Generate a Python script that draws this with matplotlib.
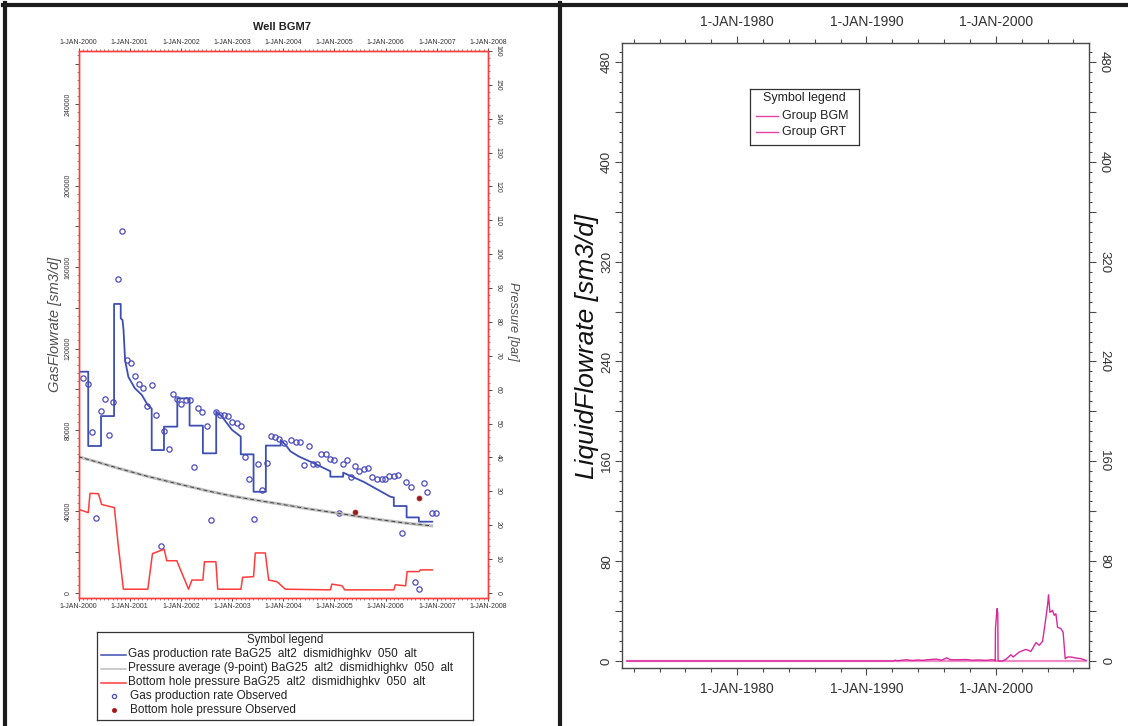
import matplotlib
matplotlib.use("Agg")
import matplotlib.pyplot as plt
from matplotlib.lines import Line2D
from matplotlib.ticker import MultipleLocator, FixedLocator, FuncFormatter

plt.rcParams['font.family'] = ['Liberation Sans', 'DejaVu Sans']

# ---------------- Well BGM7 (time = years after 1-JAN-2000) ----------------
gas_sim_t = [0.0, 0.19, 0.19, 0.44, 0.44, 0.695, 0.695, 0.825, 0.825, 0.86, 0.88, 0.91,
             0.975, 1.1, 1.236, 1.35, 1.43, 1.43, 1.67, 1.67, 1.93, 1.93, 2.17, 2.17,
             2.43, 2.43, 2.69, 2.69, 2.8, 3.0, 3.17, 3.17, 3.42, 3.42, 3.66, 3.66,
             3.95, 3.95, 4.05, 4.14, 4.3, 4.6, 4.92, 4.92, 5.17, 5.17, 5.57, 6.09,
             6.16, 6.16, 6.41, 6.41, 6.65, 6.65, 6.91]
gas_sim_q = [108600, 108600, 72100, 72100, 86800, 86800, 141900, 141900, 134800, 134000,
             129000, 114300, 106000, 100500, 97200, 92300, 90500, 70100, 70100, 81600,
             81600, 95500, 95500, 82100, 82100, 68500, 68500, 89000, 86600, 80000, 76700,
             68000, 68000, 49600, 49600, 72300, 72300, 75000, 72500, 69500, 67000, 63600,
             59700, 57000, 57000, 59000, 54500, 47200, 46800, 42600, 42600, 37000, 37000,
             34900, 34900]

pavg_t = [0.0, 0.4, 0.78, 1.3, 1.89, 2.5, 3.0, 3.5, 4.0, 4.5, 5.08, 5.5, 5.9, 6.4, 6.9]
pavg_p = [40.2, 38.5, 36.8, 34.6, 32.4, 30.2, 28.6, 27.3, 26.1, 24.8, 23.5, 22.5, 21.6, 20.6, 19.8]

bhp_t = [0.0, 0.19, 0.225, 0.388, 0.453, 0.70, 0.78, 0.877, 1.354, 1.445, 1.673, 1.725,
         1.92, 2.15, 2.215, 2.43, 2.46, 2.684, 2.72, 3.174, 3.206, 3.42, 3.454, 3.65,
         3.715, 3.88, 4.04, 4.92, 4.95, 5.15, 5.2, 6.16, 6.19, 6.39, 6.42, 6.65, 6.68, 6.91]
bhp_p = [24.7, 23.7, 29.4, 29.3, 26.1, 25.2, 13.6, 1.1, 1.1, 11.6, 12.9, 9.5,
         9.5, 1.1, 3.8, 3.8, 9.2, 9.2, 1.1, 1.1, 4.6, 4.8, 11.8, 11.8,
         3.8, 3.3, 1.1, 0.9, 2.6, 2.1, 0.9, 0.9, 2.4, 2.1, 6.3, 6.3, 6.8, 6.8]

gas_obs_t = [0.095, 0.18, 0.27, 0.35, 0.434, 0.519, 0.603, 0.682, 0.766, 0.851, 0.943, 1.021,
             1.106, 1.184, 1.269, 1.347, 1.432, 1.51, 1.608, 1.68, 1.771, 1.849, 1.934, 2.006,
             2.097, 2.182, 2.247, 2.338, 2.417, 2.514, 2.593, 2.678, 2.756, 2.84, 2.925, 3.004,
             3.088, 3.167, 3.245, 3.33, 3.421, 3.5, 3.59, 3.675, 3.754, 3.832, 3.917,
             4.02, 4.15, 4.24, 4.32, 4.41, 4.505, 4.58, 4.65, 4.74, 4.83, 4.91, 5.0, 5.08,
             5.16, 5.25, 5.32, 5.41, 5.48, 5.57, 5.65, 5.74, 5.83, 5.92, 5.99, 6.07, 6.16,
             6.24, 6.32, 6.40, 6.49, 6.565, 6.66, 6.74, 6.81, 6.91, 6.99]
gas_obs_q = [105400, 102400, 78800, 36600, 89300, 95200, 77500, 93900, 154200, 177900, 114300,
             113000, 106500, 102500, 100700, 91900, 102000, 87200, 23100, 79500, 70500, 97500,
             95200, 92900, 94700, 94700, 61800, 90600, 88800, 81800, 35700, 88900, 87300,
             87200, 86700, 84000, 83400, 82100, 66500, 55900, 36200, 63200, 50500, 63500,
             77000, 76400, 75700,
             73400, 75000, 74200, 73900, 62800, 72100, 63200, 63200, 68200, 68200, 65700,
             65200, 39300, 63100, 65200, 56700, 62300, 60000, 60800, 61100, 56700, 55700,
             55700, 55700, 57500, 57300, 57800, 29200, 54500, 52100, 5100, 1700, 53800,
             49300, 39000, 39000]

bhp_obs_t = [5.41, 6.66]
bhp_obs_p = [23.9, 28.0]

well_years = [2000, 2001, 2002, 2003, 2004, 2005, 2006, 2007, 2008]

legend_labels = [
    "Gas production rate BaG25  alt2  dismidhighkv  050  alt",
    "Pressure average (9-point) BaG25  alt2  dismidhighkv  050  alt",
    "Bottom hole pressure BaG25  alt2  dismidhighkv  050  alt",
    "Gas production rate Observed",
    "Bottom hole pressure Observed",
]

# ---------------- Liquid flowrate per group ----------------
bgm_t = [1971.5, 1990.0, 1992.1, 1992.2, 1992.4, 1993.1, 1993.5, 1994.0, 1994.3, 1994.9,
         1995.4, 1995.8, 1996.2, 1996.5, 1997.0, 1997.7, 1998.2, 1998.7, 1999.2, 1999.7,
         1999.93, 1999.95, 1999.97, 2000.05, 2000.1, 2000.15, 2000.17, 2000.52, 2000.78,
         2001.16, 2001.34, 2001.81, 2002.32, 2002.71, 2003.1, 2003.35, 2003.61, 2003.82,
         2004.0, 2004.07, 2004.18, 2004.38, 2004.51, 2004.64, 2004.77, 2005.03, 2005.2,
         2005.36, 2005.54, 2005.8, 2006.18, 2006.57, 2006.96]
bgm_q = [0.0, 0.0, 0.0, 0.6, 0.2, 1.0, 0.4, 0.8, 0.5, 1.2, 1.5, 0.7, 2.5, 1.0, 1.0, 1.2, 0.6,
         0.8, 0.5, 1.0, 0.5, 0.0, 26.0, 37.0, 42.0, 38.0, 0.0, 0.0, 1.3, 5.0, 3.2, 7.2, 9.3,
         7.7, 14.7, 12.6, 15.8, 31.0, 45.0, 53.0, 39.0, 40.6, 36.6, 37.9, 27.0, 26.0, 23.0,
         1.9, 3.2, 3.2, 2.4, 1.9, 0.5]
grt_t = [1971.5, 2007.0]
grt_q = [0.0, 0.0]

group_years = [1980, 1990, 2000]
group_names = ["Group BGM", "Group GRT"]

W, H = 1128, 726
fig = plt.figure(figsize=(W / 100, H / 100), dpi=100)


def fx(px):
    return px / W


def fy(py):
    return 1 - py / H


# dark frame around the two panels
for x0, y0, x1, y1 in [(5, 3, 5, 726), (3, 5, 1128, 5), (560, 3, 560, 726)]:
    fig.add_artist(Line2D([fx(x0), fx(x1)], [fy(y0), fy(y1)], transform=fig.transFigure,
                          color='#1c1c1c', lw=3.0))

# ================= left panel: Well BGM7 =================
red = '#ff3b3b'
blue = '#3d4fb3'
ax = fig.add_axes([fx(78.5), fy(598), fx(488) - fx(78.5), fy(51) - fy(598)])
ax2 = ax.twinx()

ax.set_xlim(2000, 2008)
ax.set_ylim(-2600, 266200)
ax2.set_ylim(-1.5, 160.0)

ax.plot([2000 + t for t in gas_sim_t], gas_sim_q, color=blue, lw=1.3, zorder=4)
ax2.plot([2000 + t for t in pavg_t], pavg_p, color='#bdbdbd', lw=2.2, zorder=2)
ax2.plot([2000 + t for t in pavg_t], pavg_p, color='#454545', lw=0.7, dashes=(4, 3), zorder=3)
ax2.plot([2000 + t for t in bhp_t], bhp_p, color=red, lw=1.1, zorder=3)
ax.plot([2000 + t for t in gas_obs_t], gas_obs_q, linestyle='none', marker='o', ms=3.8,
        mfc='none', mec='#4b4bbd', mew=0.9, zorder=5)
ax2.plot([2000 + t for t in bhp_obs_t], bhp_obs_p, linestyle='none', marker='o', ms=3.5,
         mfc='#8b1e1e', mec='#c02020', mew=0.6, zorder=5)

for a in (ax, ax2):
    for s in a.spines.values():
        s.set_color(red)
        s.set_linewidth(1.0)

ax.xaxis.set_major_locator(FixedLocator(well_years))
ax.xaxis.set_minor_locator(MultipleLocator(1 / 12))
ax.xaxis.set_major_formatter(FuncFormatter(lambda v, p: f"1-JAN-{int(round(v))}"))
ax.tick_params(axis='x', which='both', top=True, labeltop=True, direction='out')
ax.tick_params(axis='x', which='major', length=2.5, width=0.6, labelsize=5, pad=1.2,
               colors='#333333')
ax.tick_params(axis='x', which='minor', length=1.2, width=0.5, colors='#555555')

ax.yaxis.set_major_locator(MultipleLocator(20000))
ax.yaxis.set_minor_locator(MultipleLocator(4000))
ax.yaxis.set_major_formatter(FuncFormatter(lambda v, p: f"{int(v)}" if v % 40000 == 0 else ""))
ax.tick_params(axis='y', which='major', length=3, width=0.6, labelsize=5, pad=2,
               labelrotation=90, colors='#333333', direction='out')
ax.tick_params(axis='y', which='minor', length=1.2, width=0.5, colors='#555555', direction='out')
for lab in ax.get_yticklabels():
    lab.set_va('center')

ax2.yaxis.set_major_locator(MultipleLocator(10))
ax2.yaxis.set_minor_locator(MultipleLocator(2))
ax2.yaxis.set_major_formatter(FuncFormatter(lambda v, p: f"{int(v)}"))
ax2.tick_params(axis='y', which='major', length=3, width=0.6, labelsize=5, pad=2,
                labelrotation=-90, colors='#333333', direction='out')
ax2.tick_params(axis='y', which='minor', length=1.2, width=0.5, colors='#555555', direction='out')
for lab in ax2.get_yticklabels():
    lab.set_va('center')

ax.set_ylabel('GasFlowrate [sm3/d]', style='italic', fontsize=10.5, color='#505050')
ax.yaxis.set_label_coords(-0.040, 0.50)
ax2.set_ylabel('Pressure [bar]', style='italic', fontsize=9, color='#505050', rotation=-90,
               va='center')
ax2.yaxis.set_label_coords(1.06, 0.505)

fig.text(fx(282), fy(27), 'Well BGM7', ha='center', va='center', fontsize=8,
         fontweight='bold', color='#222222')

# symbol legend box under the well plot
lg = fig.add_axes([fx(97), fy(720), fx(473) - fx(97), fy(632) - fy(720)])
lg.set_xlim(0, 376)
lg.set_ylim(88, 0)
lg.set_xticks([])
lg.set_yticks([])
for s in lg.spines.values():
    s.set_color('#333333')
    s.set_linewidth(0.9)
lg.text(188, 8, 'Symbol legend', ha='center', va='center', fontsize=8.3, color='#222222')
rows = [22.5, 36.5, 50.5, 64, 77.5]
lg.plot([4, 29], [rows[0]] * 2, color=blue, lw=1.1)
lg.plot([4, 29], [rows[1]] * 2, color='#bdbdbd', lw=1.1)
lg.plot([4, 29], [rows[2]] * 2, color=red, lw=1.1)
lg.plot([17], [rows[3]], marker='o', ms=3, mfc='none', mec='#4b4bbd', mew=0.9)
lg.plot([17], [rows[4]], marker='o', ms=3, mfc='#8b1e1e', mec='#c02020', mew=0.6)
for r, txt in zip(rows, legend_labels):
    lg.text(31 if r < 60 else 33, r, txt, ha='left', va='center', fontsize=8.5,
            color='#222222')

# ================= right panel: liquid flowrate =================
edge = '#4a4a4a'
bx = fig.add_axes([fx(622), fy(668), fx(1089) - fx(622), fy(43) - fy(668)])
bx.set_xlim(1971.1, 2007.2)
bx.set_ylim(-5.6, 495.2)

bx.plot(grt_t, grt_q, color='#ef8cc8', lw=1.6, label=group_names[1], zorder=2)
bx.plot(bgm_t, bgm_q, color='#d8289c', lw=1.0, label=group_names[0], zorder=3)

for s in bx.spines.values():
    s.set_color(edge)
    s.set_linewidth(1.0)

bx.xaxis.set_major_locator(FixedLocator(group_years))
bx.xaxis.set_minor_locator(MultipleLocator(2))
bx.xaxis.set_major_formatter(FuncFormatter(lambda v, p: f"1-JAN-{int(round(v))}"))
bx.tick_params(axis='x', which='both', top=True, labeltop=True, direction='out', colors=edge)
bx.tick_params(axis='x', which='major', length=5, width=0.8, labelsize=10, pad=5,
               labelcolor='#333333')
bx.tick_params(axis='x', which='minor', length=3, width=0.8)

bx.yaxis.set_major_locator(MultipleLocator(40))
bx.yaxis.set_minor_locator(MultipleLocator(8))
bx.yaxis.set_major_formatter(FuncFormatter(lambda v, p: f"{int(v)}" if v % 80 == 0 else ""))
bx.tick_params(axis='y', which='both', right=True, labelright=True, direction='out', colors=edge)
bx.tick_params(axis='y', which='major', length=5, width=0.8, labelsize=9.5, pad=1.5,
               labelcolor='#333333')
bx.tick_params(axis='y', which='minor', length=2.5, width=0.8)
for lab in bx.get_yticklabels(which='major'):
    lab.set_rotation(90)
    lab.set_va('center')
for t in bx.yaxis.get_major_ticks():
    t.label2.set_rotation(-90)
    t.label2.set_va('center')

bx.set_ylabel('LiquidFlowrate [sm3/d]', style='italic', fontsize=19, color='#111111')
bx.yaxis.set_label_coords(-0.050, 0.515)

# group legend box
gl = fig.add_axes([fx(750), fy(145), fx(859) - fx(750), fy(89) - fy(145)])
gl.set_xlim(0, 109)
gl.set_ylim(56, 0)
gl.set_xticks([])
gl.set_yticks([])
for s in gl.spines.values():
    s.set_color('#333333')
    s.set_linewidth(0.9)
gl.text(54.5, 9.5, 'Symbol legend', ha='center', va='center', fontsize=9, color='#222222')
for r, name, col in zip([27, 43], group_names, ['#e0479f', '#e0479f']):
    gl.plot([6, 28], [r, r], color=col, lw=1.0)
    gl.text(32, r, name, ha='left', va='center', fontsize=9, color='#222222')

fig.savefig('out.png', dpi=100)
